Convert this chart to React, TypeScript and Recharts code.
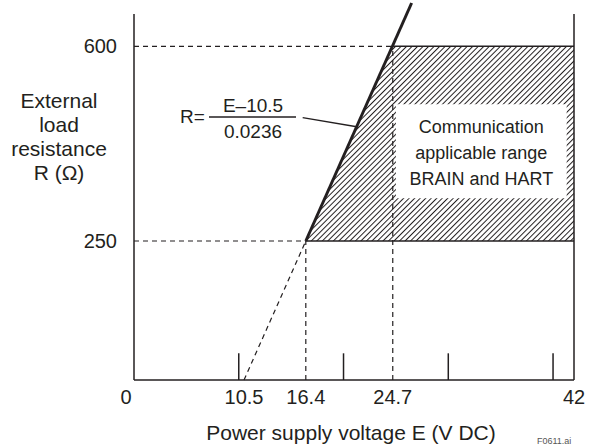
import {
  Area,
  ComposedChart,
  Customized,
  Line,
  ReferenceArea,
  ReferenceLine,
  XAxis,
  YAxis,
} from "recharts";

// power supply voltage E (V DC) vs external load resistance R (ohm)
const xTicks = [0, 10.5, 16.4, 24.7, 42];
const yTicks = [250, 600];
const innerTicks = [10, 20, 30, 40];

const loadLine = [
  { E: 16.4, R: 250 },
  { E: 26.5, R: 678 },
];
const loadLineExt = [
  { E: 10.5, R: 0 },
  { E: 16.4, R: 250 },
];
const rangeArea = [
  { E: 16.4, range: [250, 250] },
  { E: 24.66, range: [250, 600] },
  { E: 42, range: [250, 600] },
];
const rangeBox = { x1: 25, x2: 41.3, y1: 327, y2: 496 };
const boxLines = ["Communication", "applicable range", "BRAIN and HART"];
const yTitle = ["External", "load", "resistance", "R (\u03a9)"];
const leader = [
  { x: 16.1, y: 472 },
  { x: 21.4, y: 455 },
];

const ink = "#231f20";
const font = "'Liberation Sans', Arial, sans-serif";

const dashed = { stroke: ink, strokeWidth: 1.2, strokeDasharray: "5 4" };
const solid = { stroke: ink, strokeWidth: 1.5 };

function XTick({ x, y, payload }: any) {
  const dx = payload.value === 0 ? -8 : 0;
  return (
    <text
      x={x + dx}
      y={y}
      dy="0.71em"
      textAnchor="middle"
      fontSize={20}
      fontFamily={font}
      fill={ink}
    >
      {payload.value}
    </text>
  );
}

function BoxLabel({ viewBox }: any) {
  const cx = viewBox.x + viewBox.width / 2;
  const cy = viewBox.y + viewBox.height / 2;
  return (
    <g fontSize={18} fontFamily={font} fill={ink} textAnchor="middle">
      {boxLines.map((t, i) => (
        <text key={t} x={cx} y={cy - 18 + i * 26}>
          {t}
        </text>
      ))}
    </g>
  );
}

function Annotations() {
  return (
    <g fontFamily={font} fill={ink}>
      <g fontSize={21} textAnchor="middle">
        {yTitle.map((t, i) => (
          <text key={t} x={59} y={108 + i * 24}>
            {t}
          </text>
        ))}
        <text x={351} y={440}>
          Power supply voltage E (V DC)
        </text>
      </g>
      <g fontSize={19}>
        <text x={180} y={123}>
          R=
        </text>
        <text x={253} y={112} textAnchor="middle">
          E{"\u2013"}10.5
        </text>
        <text x={253} y={138} textAnchor="middle">
          0.0236
        </text>
      </g>
      <line x1={209} x2={296} y1={117} y2={117} stroke={ink} strokeWidth={1.3} />
      <text x={537} y={444} fontSize={9} fill="#555">
        F0611.ai
      </text>
    </g>
  );
}

export default function App() {
  return (
    <div style={{ position: "absolute", left: 0, top: 0 }}>
      <ComposedChart
        width={593}
        height={446}
        margin={{ top: 3, right: 19, bottom: 0, left: 0 }}
      >
        <defs>
          <pattern
            id="hatch"
            patternUnits="userSpaceOnUse"
            width={3.9}
            height={10}
            patternTransform="rotate(45)"
          >
            <line x1={0.5} y1={0} x2={0.5} y2={10} stroke={ink} strokeWidth={1} />
          </pattern>
        </defs>
        <XAxis
          type="number"
          dataKey="E"
          domain={[0, 42]}
          ticks={xTicks}
          height={66}
          axisLine={{ stroke: ink, strokeWidth: 1.5 }}
          tickLine={false}
          tickSize={0}
          tickMargin={10}
          tick={<XTick />}
        />
        <YAxis
          type="number"
          domain={[0, 678]}
          ticks={yTicks}
          width={134}
          axisLine={false}
          tickLine={false}
          tickSize={0}
          tickMargin={17}
          tick={{ fontSize: 20, fontFamily: font, fill: ink }}
        />
        <Area
          data={rangeArea}
          dataKey="range"
          type="linear"
          stroke="none"
          fill="url(#hatch)"
          fillOpacity={1}
          isAnimationActive={false}
        />
        <ReferenceArea
          {...rangeBox}
          fill="#fff"
          fillOpacity={1}
          stroke="none"
          label={<BoxLabel />}
        />
        {/* guide lines */}
        <ReferenceLine segment={[{ x: 0, y: 600 }, { x: 24.66, y: 600 }]} {...dashed} />
        <ReferenceLine segment={[{ x: 0, y: 250 }, { x: 16.4, y: 250 }]} {...dashed} />
        <ReferenceLine segment={[{ x: 16.4, y: 0 }, { x: 16.4, y: 250 }]} {...dashed} />
        <ReferenceLine segment={[{ x: 24.7, y: 0 }, { x: 24.7, y: 600 }]} {...dashed} />
        {/* range outline */}
        <ReferenceLine segment={[{ x: 24.66, y: 600 }, { x: 42, y: 600 }]} {...solid} />
        <ReferenceLine segment={[{ x: 16.4, y: 250 }, { x: 42, y: 250 }]} {...solid} />
        {/* frame */}
        <ReferenceLine segment={[{ x: 0, y: 0 }, { x: 0, y: 658 }]} {...solid} />
        <ReferenceLine segment={[{ x: 42, y: 0 }, { x: 42, y: 658 }]} {...solid} />
        {innerTicks.map((t) => (
          <ReferenceLine key={t} segment={[{ x: t, y: 0 }, { x: t, y: 48 }]} {...solid} />
        ))}
        <ReferenceLine segment={leader} stroke={ink} strokeWidth={1.3} />
        <Line
          data={loadLineExt}
          dataKey="R"
          type="linear"
          dot={false}
          stroke={ink}
          strokeWidth={1.2}
          strokeDasharray="5 4"
          isAnimationActive={false}
        />
        <Line
          data={loadLine}
          dataKey="R"
          type="linear"
          dot={false}
          stroke={ink}
          strokeWidth={3}
          isAnimationActive={false}
        />
        <Customized component={Annotations} />
      </ComposedChart>
    </div>
  );
}
